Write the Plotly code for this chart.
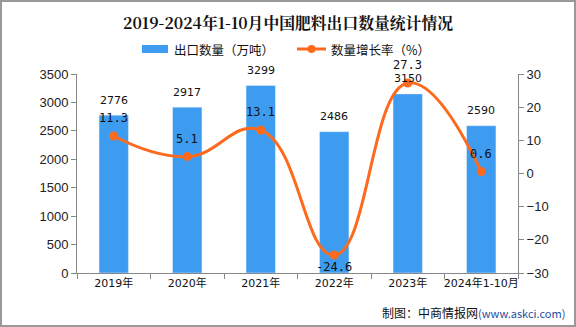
import plotly.graph_objects as go

categories = ["2019年", "2020年", "2021年", "2022年", "2023年", "2024年1-10月"]
export_volume = [2776, 2917, 3299, 2486, 3150, 2590]
growth_rate = [11.3, 5.1, 13.1, -24.6, 27.3, 0.6]
growth_label_pos = ["above", "above", "above", "below", "above", "above"]
legend_names = ["出口数量（万吨）", "数量增长率（%）"]

BAR_COLOR = "#3d9cf0"
LINE_COLOR = "#fd6a1e"

PW, PH = 441, 199  # plot area size in px
def px_x(px):
    return (px - 77) / PW
def px_y(py):
    return (273 - py) / PH

fig = go.Figure()
fig.add_trace(go.Bar(
    x=categories, y=export_volume, name=legend_names[0],
    marker_color=BAR_COLOR, width=0.4, yaxis="y",
))
fig.add_trace(go.Scatter(
    x=categories, y=growth_rate, name=legend_names[1],
    mode="lines+markers", yaxis="y2",
    line=dict(color=LINE_COLOR, width=3, shape="spline", smoothing=1.3),
    marker=dict(color=LINE_COLOR, size=9),
))

annotations = []
for c, v in zip(categories, export_volume):
    annotations.append(dict(x=c, y=v, xref="x", yref="y", text=str(v),
                            showarrow=False, yshift=15,
                            font=dict(family="DejaVu Sans", size=11, color="#111")))
for c, v, p in zip(categories, growth_rate, growth_label_pos):
    annotations.append(dict(x=c, y=v, xref="x", yref="y2", text=f"{v}",
                            showarrow=False, yshift=18 if p == "above" else -12,
                            font=dict(family="DejaVu Sans Mono", size=12, color="#111")))

annotations.append(dict(
    x=px_x(567), y=px_y(312), xref="paper", yref="paper", xanchor="right", yanchor="middle",
    text="制图：中商情报网<span style='color:#1f4e9c;font-size:11px'>(www.askci.com)</span>",
    showarrow=False, font=dict(family="Noto Sans CJK SC", size=12, color="#111"),
))
# manual legend
annotations.append(dict(x=px_x(172), y=px_y(49), xref="paper", yref="paper",
                        xanchor="left", yanchor="middle", text=legend_names[0], showarrow=False,
                        font=dict(family="Noto Sans CJK SC", size=12.5, color="#111")))
annotations.append(dict(x=px_x(329), y=px_y(49), xref="paper", yref="paper",
                        xanchor="left", yanchor="middle", text=legend_names[1], showarrow=False,
                        font=dict(family="Noto Sans CJK SC", size=12.5, color="#111")))

shapes = [
    dict(type="rect", xref="paper", yref="paper", x0=px_x(142), x1=px_x(168),
         y0=px_y(53), y1=px_y(45), fillcolor=BAR_COLOR, line=dict(width=0)),
    dict(type="line", xref="paper", yref="paper", x0=px_x(297), x1=px_x(326),
         y0=px_y(49), y1=px_y(49), line=dict(color=LINE_COLOR, width=3)),
    dict(type="circle", xref="paper", yref="paper", x0=px_x(307.5), x1=px_x(315.5),
         y0=px_y(53), y1=px_y(45), fillcolor=LINE_COLOR, line=dict(width=0)),
    dict(type="rect", xref="paper", yref="paper", x0=px_x(1), x1=px_x(575),
         y0=px_y(326), y1=px_y(1), line=dict(color="#999", width=2), layer="below"),
]

axis_common = dict(showgrid=False, zeroline=False, linecolor="#888", linewidth=1,
                   ticks="outside", tickcolor="#888", ticklen=5, automargin=False,
                   tickfont=dict(family="Liberation Sans, Arial", size=13, color="#222"))

fig.update_layout(
    width=576, height=327,
    margin=dict(l=77, r=58, t=74, b=54, autoexpand=False),
    paper_bgcolor="white", plot_bgcolor="white",
    title=dict(text="<b>2019-2024年1-10月中国肥料出口数量统计情况</b>",
               x=288 / 576, xanchor="center", y=1 - 23 / 327, yanchor="middle", yref="container",
               xref="container",
               font=dict(family="Noto Serif CJK SC, Noto Sans CJK SC", size=15.8, color="#111")),
    showlegend=False,
    xaxis=dict(type="category", showgrid=False, linecolor="#888", ticks="outside",
               tickcolor="#888", ticklen=5, tickson="boundaries", tickangle=0,
               automargin=False, range=[-0.5, 5.5],
               tickfont=dict(family="DejaVu Sans, Noto Sans CJK SC", size=11, color="#111")),
    yaxis=dict(range=[0, 3500], dtick=500, **axis_common),
    yaxis2=dict(range=[-30, 30], dtick=10, overlaying="y", side="right", **axis_common),
    annotations=annotations,
    shapes=shapes,
)

fig.write_html("out.html")
